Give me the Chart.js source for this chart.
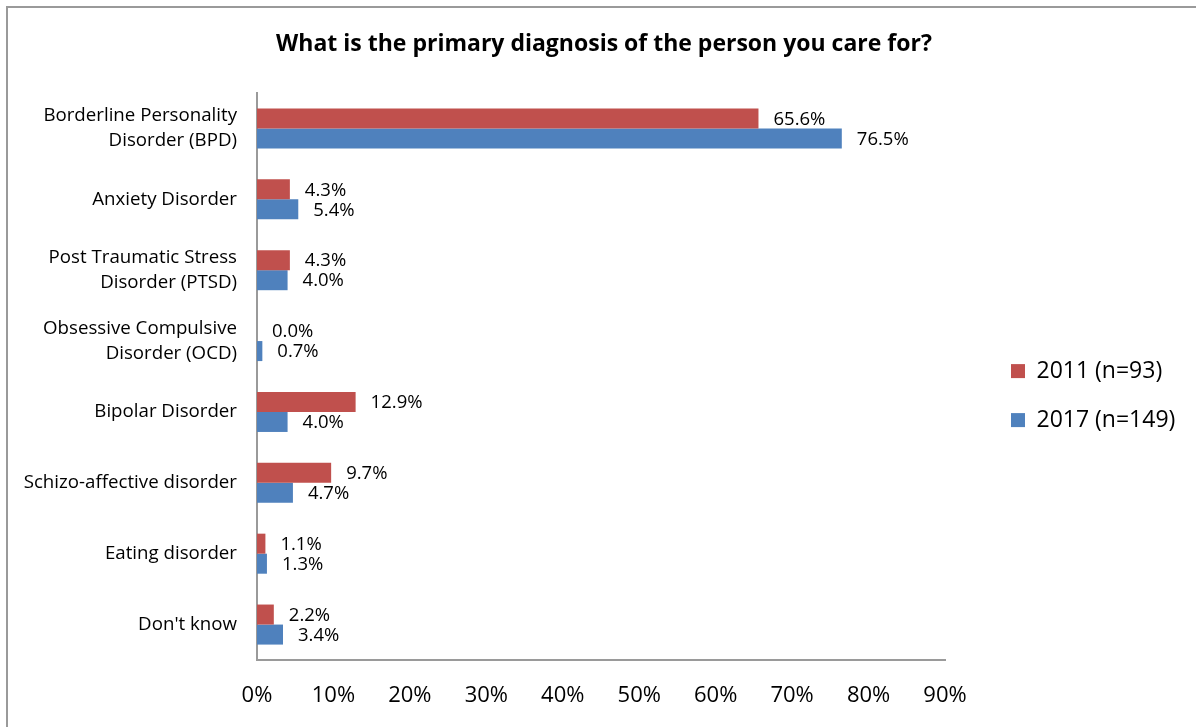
<!DOCTYPE html>
<html>
<head>
<meta charset="utf-8">
<script src="https://cdn.jsdelivr.net/npm/chart.js@4.4.1/dist/chart.umd.min.js"></script>
<style>
  html, body { margin: 0; padding: 0; background: #fff; overflow: hidden; }
  #frame { position: absolute; left: 6px; top: 6px; width: 1300px; height: 900px; border: 2px solid #9a9a9a; box-sizing: border-box; }
  #chart { position: absolute; left: 0; top: 0; }
</style>
</head>
<body>
<div id="frame"></div>
<canvas id="chart" width="1196" height="727"></canvas>
<script>
const categories = [
    ['Borderline Personality', 'Disorder (BPD)'],
    'Anxiety Disorder',
    ['Post Traumatic Stress', 'Disorder (PTSD)'],
    ['Obsessive Compulsive', 'Disorder (OCD)'],
    'Bipolar Disorder',
    'Schizo-affective disorder',
    'Eating disorder',
    "Don't know"
];
const values2011 = [65.6, 4.3, 4.3, 0.0, 12.9, 9.7, 1.1, 2.2];
const values2017 = [76.5, 5.4, 4.0, 0.7, 4.0, 4.7, 1.3, 3.4];
const seriesNames = ['2011 (n=93)', '2017 (n=149)'];
const xTicks = [0, 10, 20, 30, 40, 50, 60, 70, 80, 90];

const FONT = "'Open Sans', 'DejaVu Sans', sans-serif";
const axisGray = '#9a9a9a';

// value labels to the right of each bar
const barLabels = {
    id: 'barLabels',
    afterDatasetsDraw(chart) {
        const ctx = chart.ctx;
        ctx.save();
        ctx.font = '18.5px ' + FONT;
        ctx.fillStyle = '#000';
        ctx.textAlign = 'left';
        ctx.textBaseline = 'middle';
        chart.data.datasets.forEach(function (ds, i) {
            chart.getDatasetMeta(i).data.forEach(function (bar, j) {
                ctx.fillText(ds.data[j].toFixed(1) + '%', bar.x + 15, bar.y + 1);
            });
        });
        ctx.restore();
    }
};

// keep the legend column a fixed width so the plot ends at the 90% mark
const legendWidth = {
    id: 'legendWidth',
    beforeLayout(chart) {
        const lg = chart.legend;
        if (!lg || lg._fixedFit) return;
        const fit = lg.fit;
        lg.fit = function () {
            fit.call(this);
            this.width = 211;
        };
        lg._fixedFit = true;
    }
};

const ctx = document.getElementById('chart').getContext('2d');
const chart = new Chart(ctx, {
    type: 'bar',
    data: {
        labels: categories,
        datasets: [{
            label: seriesNames[0],
            data: values2011,
            backgroundColor: '#C0504D',
            categoryPercentage: 0.565,
            barPercentage: 1.0
        }, {
            label: seriesNames[1],
            data: values2017,
            backgroundColor: '#4F81BD',
            categoryPercentage: 0.565,
            barPercentage: 1.0
        }]
    },
    options: {
        indexAxis: 'y',
        responsive: false,
        animation: false,
        layout: {
            padding: { top: 15, right: 0, bottom: 0, left: 12 }
        },
        scales: {
            x: {
                min: 0,
                max: 90,
                afterBuildTicks: function (scale) {
                    scale.ticks = xTicks.map(function (v) { return { value: v }; });
                },
                afterFit: function (scale) { scale.height = 67; },
                grid: { display: false, drawTicks: false },
                border: { display: true, color: axisGray, width: 2 },
                ticks: {
                    padding: 23,
                    color: '#000',
                    font: { family: FONT, size: 22 },
                    callback: function (v) { return v + '%'; }
                }
            },
            y: {
                afterFit: function (scale) { scale.width = 245; },
                grid: { display: false, drawTicks: false },
                border: { display: true, color: axisGray, width: 2 },
                ticks: {
                    padding: 20,
                    color: '#000',
                    font: { family: FONT, size: 18.7, lineHeight: 1.35 }
                }
            },
            yGap: {
                type: 'category',
                position: 'right',
                afterFit: function (scale) { scale.width = 40; },
                grid: { display: false },
                border: { display: false },
                ticks: { display: false }
            }
        },
        plugins: {
            title: {
                display: true,
                text: 'What is the primary diagnosis of the person you care for?',
                color: '#000',
                font: { family: FONT, size: 23, weight: 'bold', lineHeight: 1.2 },
                padding: { top: 16, bottom: 34.4 }
            },
            legend: {
                position: 'right',
                title: {
                    display: true,
                    text: '',
                    font: { size: 1 },
                    padding: { top: 48, bottom: 0 }
                },
                labels: {
                    boxWidth: 14,
                    boxHeight: 14,
                    padding: 26,
                    color: '#000',
                    font: { family: FONT, size: 23 }
                }
            },
            tooltip: { enabled: false }
        }
    },
    plugins: [barLabels, legendWidth]
});
</script>
</body>
</html>
